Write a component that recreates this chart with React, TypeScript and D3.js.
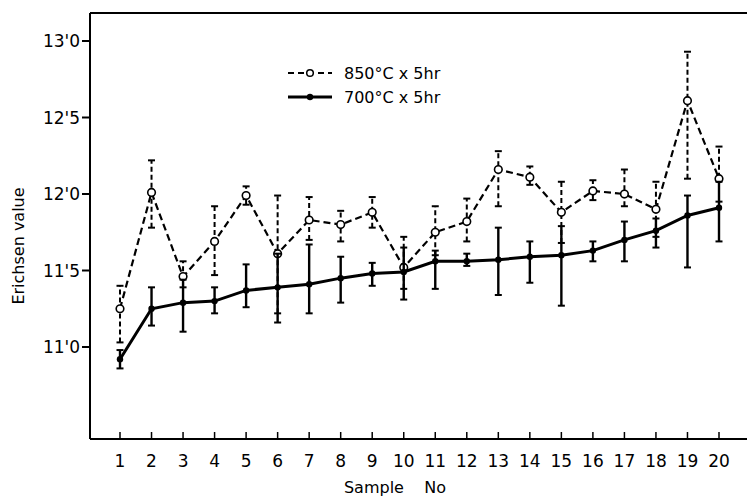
import * as React from "react";
import * as d3 from "d3";

const samples = d3.range(1, 21);

// 850°C x 5hr (open circles, dashed)
const mean850 = [11.25, 12.01, 11.46, 11.69, 11.99, 11.61, 11.83, 11.8, 11.88, 11.52, 11.75, 11.82, 12.16, 12.11, 11.88, 12.02, 12.0, 11.9, 12.61, 12.1];
const hi850 = [11.4, 12.22, 11.56, 11.92, 12.05, 11.99, 11.98, 11.89, 11.98, 11.72, 11.92, 11.97, 12.28, 12.18, 12.08, 12.09, 12.16, 12.08, 12.93, 12.31];
const lo850 = [11.03, 11.78, 11.39, 11.47, 11.93, 11.22, 11.7, 11.69, 11.78, 11.38, 11.6, 11.69, 11.92, 12.06, 11.68, 11.96, 11.92, 11.72, 12.1, 11.95];

// 700°C x 5hr (filled dots, solid)
const mean700 = [10.92, 11.25, 11.29, 11.3, 11.37, 11.39, 11.41, 11.45, 11.48, 11.49, 11.56, 11.56, 11.57, 11.59, 11.6, 11.63, 11.7, 11.76, 11.86, 11.91];
const hi700 = [10.98, 11.39, 11.44, 11.39, 11.54, 11.61, 11.67, 11.59, 11.55, 11.65, 11.63, 11.61, 11.78, 11.69, 11.79, 11.69, 11.82, 11.84, 11.99, 12.08];
const lo700 = [10.86, 11.14, 11.1, 11.22, 11.26, 11.16, 11.22, 11.29, 11.4, 11.31, 11.38, 11.53, 11.34, 11.42, 11.27, 11.56, 11.56, 11.65, 11.52, 11.69];

const yTicks = [11.0, 11.5, 12.0, 12.5, 13.0];
const yTickLabel = (v: number) => v.toFixed(1).replace(".", "'");

const W = 747;
const H = 498;
const FRAME = { left: 90, top: 13, bottom: 439, right: 747 };
const FONT = "'DejaVu Sans', sans-serif";
const DASH = "7,4";

export default function App() {
  const x = d3.scaleLinear().domain([1, 20]).range([120, 719]);
  const y = d3.scaleLinear().domain([11, 13]).range([347, 41]);

  const line = d3
    .line<number>()
    .x((_, i) => x(samples[i]))
    .y((d) => y(d));

  const cap = 3.5;

  function errorBars(lo: number[], hi: number[], dashed: boolean, width: number) {
    return samples.map((s, i) => {
      const cx = x(s);
      return (
        <g key={`eb-${dashed}-${s}`} stroke="#000" strokeWidth={width} fill="none">
          <line x1={cx} x2={cx} y1={y(lo[i])} y2={y(hi[i])} strokeDasharray={dashed ? "5,3" : undefined} />
          <line x1={cx - cap} x2={cx + cap} y1={y(hi[i])} y2={y(hi[i])} strokeWidth={2} />
          <line x1={cx - cap} x2={cx + cap} y1={y(lo[i])} y2={y(lo[i])} strokeWidth={2} />
        </g>
      );
    });
  }

  return (
    <svg
      width={W}
      height={H}
      style={{ position: "absolute", left: 0, top: 0, background: "#fff" }}
      fontFamily={FONT}
    >
      {/* frame: left, top, bottom */}
      <g stroke="#000" strokeWidth={2} fill="none">
        <line x1={FRAME.left} x2={FRAME.left} y1={FRAME.top} y2={FRAME.bottom} />
        <line x1={FRAME.left} x2={FRAME.right} y1={FRAME.top} y2={FRAME.top} />
        <line x1={FRAME.left} x2={FRAME.right} y1={FRAME.bottom} y2={FRAME.bottom} />
      </g>

      {/* y ticks */}
      {yTicks.map((t) => (
        <g key={`yt-${t}`}>
          <line x1={FRAME.left - 8} x2={FRAME.left} y1={y(t)} y2={y(t)} stroke="#000" strokeWidth={2} />
          <text x={FRAME.left - 10} y={y(t)} dy="0.36em" textAnchor="end" fontSize={17}>
            {yTickLabel(t)}
          </text>
        </g>
      ))}

      {/* x ticks */}
      {samples.map((s) => (
        <g key={`xt-${s}`}>
          <line x1={x(s)} x2={x(s)} y1={FRAME.bottom} y2={FRAME.bottom - 7} stroke="#000" strokeWidth={1.5} />
          <text x={x(s)} y={FRAME.bottom + 28} textAnchor="middle" fontSize={17}>
            {s}
          </text>
        </g>
      ))}

      {/* axis titles */}
      <text x={395} y={493} textAnchor="middle" fontSize={16}>
        Sample{"\u00a0\u00a0\u00a0\u00a0"}No
      </text>
      <text transform="translate(24,246) rotate(-90)" textAnchor="middle" fontSize={16}>
        Erichsen value
      </text>

      {/* 850 series */}
      {errorBars(lo850, hi850, true, 2)}
      <path d={line(mean850) ?? ""} fill="none" stroke="#000" strokeWidth={2.2} strokeDasharray={DASH} />
      {samples.map((s, i) => (
        <circle key={`o-${s}`} cx={x(s)} cy={y(mean850[i])} r={3.8} fill="#fff" stroke="#000" strokeWidth={1.6} />
      ))}

      {/* 700 series */}
      {errorBars(lo700, hi700, false, 2.4)}
      <path d={line(mean700) ?? ""} fill="none" stroke="#000" strokeWidth={3} />
      {samples.map((s, i) => (
        <circle key={`f-${s}`} cx={x(s)} cy={y(mean700[i])} r={3.2} fill="#000" />
      ))}

      {/* legend */}
      <g>
        <line x1={288} x2={332} y1={73} y2={73} stroke="#000" strokeWidth={2} strokeDasharray="6,4" />
        <circle cx={310} cy={73} r={3.3} fill="#fff" stroke="#000" strokeWidth={1.5} />
        <text x={344} y={73} dy="0.36em" fontSize={16}>
          850°C x 5hr
        </text>
        <line x1={288} x2={332} y1={97} y2={97} stroke="#000" strokeWidth={3} />
        <circle cx={310} cy={97} r={3.2} fill="#000" />
        <text x={344} y={97} dy="0.36em" fontSize={16}>
          700°C x 5hr
        </text>
      </g>
    </svg>
  );
}
